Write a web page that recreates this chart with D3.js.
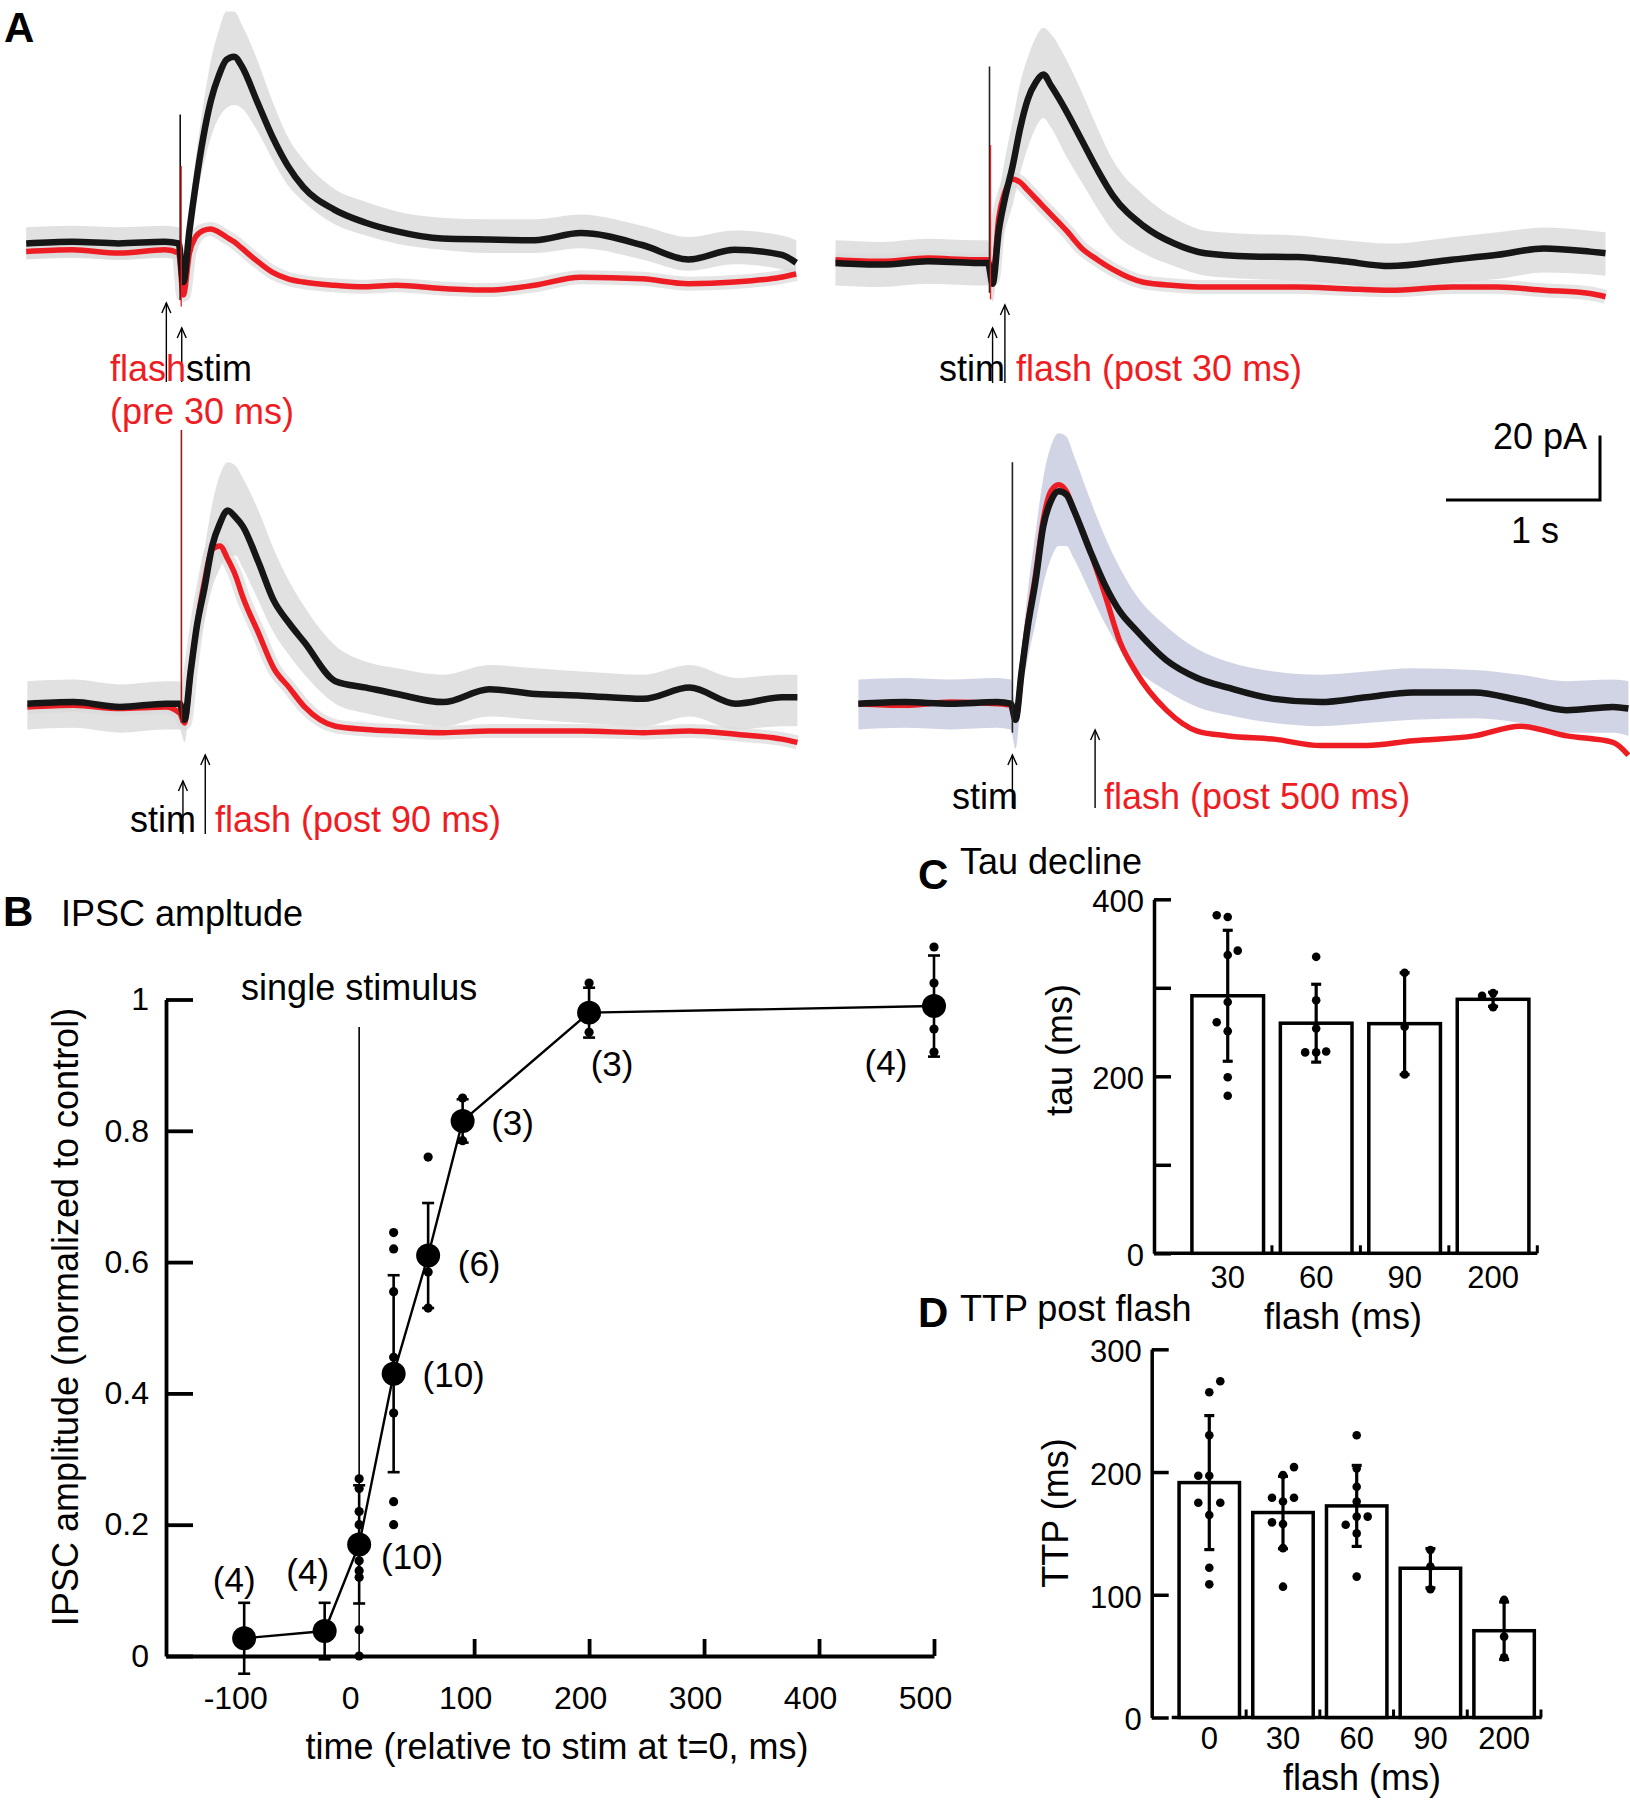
<!DOCTYPE html>
<html><head><meta charset="utf-8">
<script src="https://cdn.jsdelivr.net/npm/d3@7"></script>
<style>body{margin:0;background:#fff}svg{display:block}</style>
</head><body><svg id="fig" width="1630" height="1800"></svg>
<script>
// ---------------- DATA ----------------
// Panel A: mean IPSC traces (pA, outward up), sampled at traceTime (s, relative to stim)
const traceTime = [-1.0,-0.7,-0.4,-0.1,-0.01,0.02,0.06,0.1,0.15,0.2,0.25,0.3,0.35,0.4,0.5,0.6,0.7,0.8,1.0,1.2,1.4,1.7,2.0,2.3,2.6,3.0,3.3,3.6,3.9,4.0];
// pre 30 ms
const preBlack = [0,0.5,0,0.5,0,-12,4,18,33,44.5,52,57,58,55,44,33,24,17.5,10.5,6.5,3.8,1.5,1.2,1,3.2,-0.5,-5,-2,-3.5,-6];
const preRed   = [-2.5,-2,-3,-2,-3,-16,-3,2,4,4.5,3.5,2,0.5,-1.5,-5.5,-9,-11,-12,-13,-13.5,-13,-14,-14.5,-13,-10.5,-11,-12.5,-12,-10.5,-9.5];
const preHi    = [5,5.5,5,5.5,5,-8,10,26,43,57,66,72,72,68,57,44,33,26,17,13,10,8,7.5,7.5,9,5.5,2,4,2.5,1];
const preLo    = [-5,-4.5,-5,-4.5,-5,-16,0,12,24,33,39,42,43,42,35,26,18,13,6,2.5,0,-2,-3,-3,-1.5,-5,-8.5,-6.5,-8,-10];
// post 30 ms
const p30Black = [0,-0.5,0.5,0,0,-6.5,10,20,30,42,51,56,58.5,55,47,38,29,21,11.5,6,3,2,1.8,0.5,-1,1,2.5,4.5,3.5,3];
const p30Red   = [1,0.5,1.5,1,1,-5,14,22,26,25,22.5,20,17.5,15,10,4.5,1,-2,-6,-7,-7.5,-7.5,-7.5,-8,-8.5,-7.5,-7.5,-8.5,-9.5,-10.5];
const p30Hi    = [7,6.5,7.5,7,7,-4,20,32,44,56,64,70,73,71,63,53,42,32,21,14,10,9,8.5,7,6,8,9.5,11,10,9.5];
const p30Lo    = [-7,-7.5,-6.5,-7,-7,-12,2,10,18,28,36,42,45,42,33,25,17,10,3,-1,-4,-5,-5.5,-6.5,-8,-6,-5,-3,-3.5,-4];
// post 90 ms
const p90Black = [0,0.5,-1,0,0,-5,10,24,36,49,56,60,58,55,44,32,25,19,7,5,3,0.5,4.5,3,2.5,1.5,5,0,2,2];
const p90Red   = [-1,-0.5,-1.5,-1,-3,-6,10,24,38,48,49,45,40,33,22,11,5,-1,-7,-8,-8.5,-9,-8.5,-8.5,-8.5,-9,-8.5,-9.5,-11,-12];
const p90Hi    = [7,7.5,6,7,7,-3,15,32,48,62,71,75,74,70,60,48,38,30,18,13,11,9,12,11,10,9,12,8,9,9];
const p90Lo    = [-8,-7.5,-9,-8,-8,-12,3,15,26,36,42,46,46,42,32,22,15,9,0,-3,-5,-7,-4,-5,-6,-7,-4,-8,-7,-7];
// post 500 ms
const p500Black = [0,0.5,0,0.5,0,-5,10,24,38,55,63,66,65,60,48,37,28.5,23,13.5,8,5,1.5,0.5,2,3.5,3.5,1,-2,-1,-1.5];
const p500Red   = [0,-0.5,0.5,0,-0.5,-5,10,25,40,57,66,68,66,60,48,34,19,10,-2,-8.5,-10,-11,-13,-13,-11.5,-10,-7,-10,-12,-16];
const p500Hi    = [7.5,8,7.5,8,7.5,-2,17,35,53,70,80,84,83,77,64,52,42,34,24,17,13,10,9,10,11,10.5,9,7,7.5,7];
const p500Lo    = [-8,-7.5,-8,-7.5,-8,-14,3,14,25,37,45,49,49,45,35,25,17,11,4,-1,-3.5,-6,-7,-6,-5,-4.5,-6,-9,-9,-10];
// stimulus artifact extent (pA)
const artifactTop = [40, 61, 85, 75];
const artifactBottom = [-17.6, -9.3, -6, -9];
// arrow times (s)
const stimArrowT = [0.01, 0.02, 0.01, 0.0];
const flashArrowT = [-0.09, 0.1, 0.155, 0.537];
const scaleBarPA = 20, scaleBarS = 1;

// Panel B: IPSC amplitude
const bTimes = [-100, -30, 0, 30, 60, 90, 200, 500];
const bMeans = [0.027, 0.038, 0.17, 0.43, 0.61, 0.815, 0.98, 0.99];
const bErr   = [0.054, 0.043, 0.09, 0.15, 0.08, 0.033, 0.038, 0.077];
const bN     = ["(4)", "(4)", "(10)", "(10)", "(6)", "(3)", "(3)", "(4)"];
const bDots  = [[], [], [0.27,0.255,0.22,0.2,0.17,0.145,0.13,0.12,0.04,0.0],
                [0.645,0.62,0.555,0.455,0.43,0.42,0.37,0.235,0.2],
                [0.76,0.62,0.6,0.585,0.53], [0.85,0.82,0.785], [1.025,0.975,0.95], [1.08,1.025,0.955,0.92]];
const bXTicks = [-100, 0, 100, 200, 300, 400, 500];
const bYTicks = [0, 0.2, 0.4, 0.6, 0.8, 1];

// Panel C: tau decline
const cCats  = ["30", "60", "90", "200"];
const cMeans = [291, 260, 259.5, 287];
const cErr   = [74, 44, 57.5, 8];
const cDots  = [[382,380,337,342,284,261,251,199,178],[335,286,254,227,227,228],[317,256,202],[291,294,278]];
const cYTicks = [0, 100, 200, 300, 400];

// Panel D: TTP post flash
const dCats  = ["0", "30", "60", "90", "200"];
const dMeans = [191.4, 167, 172.4, 121.6, 70.7];
const dErr   = [54.6, 29.5, 33, 16, 23.4];
const dDots  = [[274,265,230,197,197,175,175,165,122,108.5],[204,197.6,179,176,179,159,157.7,138,106.6],
                [230,203,188,176,163.7,157,163.7,150,114.8],[136.5,123,104.5],[95.8,65.9,49]];
const dYTicks = [0, 100, 200, 300];

// ---------------- LAYOUT / STYLE ----------------
const FONT = '"Liberation Sans", Arial, Helvetica, sans-serif';
const RED = "#ee1d23";
const svg = d3.select("#fig").attr("font-family", FONT);

function txt(g, x, y, s, size, o = {}) {
  const t = g.append("text").attr("x", x).attr("y", y).attr("font-size", size)
    .attr("fill", o.fill || "#000").text(s);
  if (o.anchor) t.attr("text-anchor", o.anchor);
  if (o.weight) t.attr("font-weight", o.weight);
  if (o.rotate) t.attr("transform", `rotate(-90,${x},${y})`);
  return t;
}
function arrow(g, x, yTip, yBot) {
  g.append("line").attr("x1", x).attr("x2", x).attr("y1", yBot).attr("y2", yTip)
    .attr("stroke", "#000").attr("stroke-width", 1.4);
  g.append("path").attr("d", `M${x-4.5},${yTip+10}L${x},${yTip}L${x+4.5},${yTip+10}`)
    .attr("fill", "none").attr("stroke", "#000").attr("stroke-width", 1.4);
}

// ---------------- PANEL A ----------------
txt(svg, 4, 42, "A", 42, {weight: "bold"});
const panels = [
  {stimX:180.2, base:243.4, black:preBlack, red:preRed, hi:preHi, lo:preLo, band:"#d9d9d9", halo:true,
   artColor:["#111", RED], arrows:[{tip:303, bot:382},{tip:328, bot:382}],
   labels:[{x:110, y:381, parts:[["flash",RED],["stim","#000"]]},{x:110, y:424, parts:[["(pre 30 ms)",RED]]}]},
  {stimX:989.5, base:262.9, black:p30Black, red:p30Red, hi:p30Hi, lo:p30Lo, band:"#d9d9d9", halo:true,
   artColor:["#222", RED], arrows:[{tip:305, bot:383},{tip:328, bot:383}],
   labels:[{x:939, y:381, parts:[["stim","#000"]]},{x:1016, y:381, parts:[["flash (post 30 ms)",RED]]}]},
  {stimX:181.4, base:703.7, black:p90Black, red:p90Red, hi:p90Hi, lo:p90Lo, band:"#d9d9d9", halo:true,
   artColor:["#9b1b1b", "#9b1b1b"], arrows:[{tip:755, bot:834},{tip:781, bot:834}],
   labels:[{x:130, y:832, parts:[["stim","#000"]]},{x:215, y:832, parts:[["flash (post 90 ms)",RED]]}]},
  {stimX:1012.4, base:703.7, black:p500Black, red:p500Red, hi:p500Hi, lo:p500Lo, band:"#c6c9de", halo:false,
   artColor:["#222", "#222"], arrows:[{tip:730, bot:808},{tip:755, bot:808}],
   labels:[{x:952, y:809, parts:[["stim","#000"]]},{x:1104, y:809, parts:[["flash (post 500 ms)",RED]]}]}
];
let brX, brY;
panels.forEach((p, pi) => {
  const x = d3.scaleLinear().domain([-1, 4]).range([p.stimX - 154, p.stimX + 616]);
  const y = d3.scaleLinear().domain([0, 20]).range([p.base, p.base - 64.4]);
  if (pi === 3) { brX = x; brY = y; }
  const g = svg.append("g");
  const line = d3.line().x(d => x(d.t)).y(d => y(d.v)).curve(d3.curveMonotoneX);
  const area = d3.area().x(d => x(d.t)).y0(d => y(d.lo)).y1(d => y(d.hi)).curve(d3.curveMonotoneX);
  const redRows = traceTime.map((t, i) => ({t, v: p.red[i]}));
  const blackRows = traceTime.map((t, i) => ({t, v: p.black[i]}));
  if (p.halo) g.append("path").attr("d", line(redRows)).attr("fill", "none")
      .attr("stroke", "#e5e5e5").attr("stroke-width", 14);
  g.append("path").attr("d", area(traceTime.map((t, i) => ({t, lo: p.lo[i], hi: p.hi[i]}))))
    .attr("fill", p.band).attr("opacity", 0.8);
  g.append("path").attr("d", line(redRows)).attr("fill", "none").attr("stroke", RED)
    .attr("stroke-width", 5.5).attr("stroke-linejoin", "round");
  g.append("path").attr("d", line(blackRows)).attr("fill", "none").attr("stroke", "#161616")
    .attr("stroke-width", 6.5).attr("stroke-linejoin", "round");
  // stimulus artifact
  g.append("line").attr("x1", x(0)).attr("x2", x(0)).attr("y1", y(artifactTop[pi])).attr("y2", y(artifactBottom[pi]))
    .attr("stroke", p.artColor[0]).attr("stroke-width", 1.6);
  if (p.artColor[1] !== p.artColor[0]) {
    g.append("line").attr("x1", x(0) + 1).attr("x2", x(0) + 1).attr("y1", y(artifactTop[pi] * 0.6)).attr("y2", y(artifactBottom[pi] - 2))
      .attr("stroke", p.artColor[1]).attr("stroke-width", 1.3);
  }
  // arrows: [flash, stim]
  arrow(g, x(flashArrowT[pi]), p.arrows[0].tip, p.arrows[0].bot);
  arrow(g, x(stimArrowT[pi]), p.arrows[1].tip, p.arrows[1].bot);
  p.labels.forEach(l => {
    const t = g.append("text").attr("x", l.x).attr("y", l.y).attr("font-size", 36);
    l.parts.forEach(([s, c]) => t.append("tspan").attr("fill", c).text(s));
  });
});
// scale bar
{
  const g = svg.append("g");
  const len = brX(scaleBarS) - brX(0), hgt = brY(0) - brY(scaleBarPA);
  const cx = 1600, cy = 500;
  g.append("path").attr("d", `M${cx - len},${cy}H${cx}V${cy - hgt}`).attr("fill", "none")
    .attr("stroke", "#000").attr("stroke-width", 3);
  txt(g, 1493, 449, scaleBarPA + " pA", 36);
  txt(g, 1511, 543, scaleBarS + " s", 36);
}

// ---------------- PANEL B ----------------
{
  const g = svg.append("g");
  txt(g, 3, 926, "B", 42, {weight: "bold"});
  txt(g, 61, 926, "IPSC ampltude", 36);
  const x = d3.scaleLinear().domain([-168, 500]).range([166, 934]);
  const y = d3.scaleLinear().domain([0, 1]).range([1656, 999.5]);
  const ya = g.append("g").attr("transform", "translate(166,0)")
    .call(d3.axisLeft(y).tickValues(bYTicks).tickFormat(d => String(d)).tickSizeInner(-27).tickSizeOuter(0).tickPadding(17));
  const xl = g.append("g").attr("transform", "translate(0,1656)")
    .call(d3.axisBottom(x).tickValues(bXTicks).tickFormat(d => String(d)).tickSize(0).tickPadding(30));
  xl.select(".domain").remove();
  xl.selectAll("text").attr("dx", -9);
  const xt = g.append("g").attr("transform", "translate(0,1656)")
    .call(d3.axisBottom(x).tickValues(bXTicks.filter(v => v >= 100)).tickFormat("").tickSizeInner(-17).tickSizeOuter(0));
  [ya, xl, xt].forEach(a => {
    a.attr("font-size", 32).attr("font-family", FONT);
    a.selectAll("text").attr("fill", "#000");
    a.selectAll("path,line").attr("stroke", "#000").attr("stroke-width", 3.8);
  });
  // single stimulus line
  g.append("line").attr("x1", x(0)).attr("x2", x(0)).attr("y1", 1027).attr("y2", 1656).attr("stroke", "#000").attr("stroke-width", 1.6);
  txt(g, x(0), 1000, "single stimulus", 36, {anchor: "middle"});
  const rows = bTimes.map((t, i) => ({t, m: bMeans[i], e: bErr[i], n: bN[i], dots: bDots[i]}));
  g.append("path").attr("d", d3.line().x(d => x(d.t)).y(d => y(d.m))(rows)).attr("fill", "none")
    .attr("stroke", "#000").attr("stroke-width", 2.4);
  rows.forEach(r => {
    const cx = x(r.t);
    g.append("line").attr("x1", cx).attr("x2", cx).attr("y1", y(r.m - r.e)).attr("y2", y(r.m + r.e)).attr("stroke", "#000").attr("stroke-width", 2.6);
    [r.m - r.e, r.m + r.e].forEach(v => g.append("line").attr("x1", cx - 6).attr("x2", cx + 6).attr("y1", y(v)).attr("y2", y(v)).attr("stroke", "#000").attr("stroke-width", 2.6));
    r.dots.forEach(v => g.append("circle").attr("cx", cx).attr("cy", y(v)).attr("r", 4.6).attr("fill", "#000"));
    g.append("circle").attr("cx", cx).attr("cy", y(r.m)).attr("r", 12).attr("fill", "#000");
  });
  // n labels, offsets (px) from the mean marker
  const nOff = [[-10,-46],[-17,-47],[53,25],[60,13],[51,20],[50,14],[23,63],[-48,69]];
  rows.forEach((r, i) => txt(g, x(r.t) + nOff[i][0], y(r.m) + nOff[i][1], r.n, 35, {anchor: "middle"}));
  txt(g, 78, 1317, "IPSC amplitude (normalized to control)", 36, {anchor: "middle", rotate: true});
  txt(g, 557, 1759, "time (relative to stim at t=0, ms)", 36, {anchor: "middle"});
}

// ---------------- BAR PANELS ----------------
function barPanel(o) {
  const g = svg.append("g");
  const x = d3.scaleBand().domain(o.cats).range(o.xRange).paddingInner(o.pi).paddingOuter(o.po);
  const y = d3.scaleLinear().domain(o.yDomain).range(o.yRange);
  const ya = g.append("g").attr("transform", `translate(${o.axisX},0)`)
    .call(d3.axisLeft(y).tickValues(o.yTicks).tickFormat(o.yFmt).tickSizeInner(-17).tickSizeOuter(0).tickPadding(10));
  const xa = g.append("g").attr("transform", `translate(0,${o.yRange[0]})`)
    .call(d3.axisBottom(x).tickSize(0).tickPadding(o.xPad));
  xa.select(".domain").remove();
  [ya, xa].forEach(a => {
    a.attr("font-size", 31).attr("font-family", FONT);
    a.selectAll("text").attr("fill", "#000");
    a.selectAll("path,line").attr("stroke", "#000").attr("stroke-width", 3.5);
  });
  ya.selectAll("text").attr("dy", "0.4em");
  // x baseline and boundary ticks
  const step = x.step(), half = o.pi * step / 2;
  g.append("line").attr("x1", o.baseStart).attr("x2", o.xRange[1]).attr("y1", y(0)).attr("y2", y(0)).attr("stroke", "#000").attr("stroke-width", 3.5);
  o.cats.forEach((c, i) => {
    if (i === 0) return;
    const bx = x(c) - half;
    g.append("line").attr("x1", bx).attr("x2", bx).attr("y1", y(0)).attr("y2", y(0) - 8).attr("stroke", "#000").attr("stroke-width", 3);
  });
  const lastX = x(o.cats[o.cats.length - 1]) + x.bandwidth() + half;
  g.append("line").attr("x1", lastX).attr("x2", lastX).attr("y1", y(0)).attr("y2", y(0) - 8).attr("stroke", "#000").attr("stroke-width", 3);
  o.cats.forEach((c, i) => {
    g.append("rect").attr("x", x(c)).attr("y", y(o.means[i])).attr("width", x.bandwidth()).attr("height", y(0) - y(o.means[i]))
      .attr("fill", "#fff").attr("stroke", "#000").attr("stroke-width", 3.5);
  });
  o.cats.forEach((c, i) => {
    const cx = x(c) + x.bandwidth() / 2;
    const lo = o.means[i] - o.err[i], hi = o.means[i] + o.err[i];
    g.append("line").attr("x1", cx).attr("x2", cx).attr("y1", y(lo)).attr("y2", y(hi)).attr("stroke", "#000").attr("stroke-width", 3.2);
    [lo, hi].forEach(v => g.append("line").attr("x1", cx - 5).attr("x2", cx + 5).attr("y1", y(v)).attr("y2", y(v)).attr("stroke", "#000").attr("stroke-width", 3.2));
    o.dots[i].forEach((v, j) => g.append("circle").attr("cx", cx + o.jit[i][j]).attr("cy", y(v)).attr("r", 4.3).attr("fill", "#000"));
  });
  txt(g, o.letterX, o.letterY, o.letter, 42, {weight: "bold"});
  txt(g, o.letterX + 42, o.titleY, o.title, 36);
  txt(g, o.yTitleX, o.yTitleY, o.yTitle, 36, {anchor: "middle", rotate: true});
  txt(g, o.xTitleX, o.xTitleY, "flash (ms)", 36, {anchor: "middle"});
}

barPanel({cats: cCats, means: cMeans, err: cErr, dots: cDots,
  jit: [[-11,0,0,10,0,-11,0,0,0],[0,0,0,-11,0,10],[0,0,0],[-11,0,0]],
  xRange: [1183.5, 1537.3], pi: 0.19, po: 0.095, yDomain: [0, 400], yRange: [1253.3, 899.3],
  yTicks: cYTicks, yFmt: d => (d % 200 === 0 ? String(d) : ""), axisX: 1154, baseStart: 1154, xPad: 13,
  letter: "C", letterX: 918, letterY: 889, title: "Tau decline", titleY: 874,
  yTitle: "tau (ms)", yTitleX: 1072, yTitleY: 1050, xTitleX: 1343, xTitleY: 1329});

barPanel({cats: dCats, means: dMeans, err: dErr, dots: dDots,
  jit: [[11,0,0,-11,0,-11,11,0,0,0],[11,0,-11,0,11,-11,0,0,0],[0,0,0,0,0,-11,11,0,0],[0,0,0],[0,0,0]],
  xRange: [1171.7, 1541.7], pi: 0.18, po: 0.1, yDomain: [0, 300], yRange: [1717.5, 1349.3],
  yTicks: dYTicks, yFmt: d => String(d), axisX: 1151.7, baseStart: 1171.7, xPad: 9,
  letter: "D", letterX: 918, letterY: 1327, title: "TTP post flash", titleY: 1321,
  yTitle: "TTP (ms)", yTitleX: 1068, yTitleY: 1513, xTitleX: 1362, xTitleY: 1790});
</script></body></html>
